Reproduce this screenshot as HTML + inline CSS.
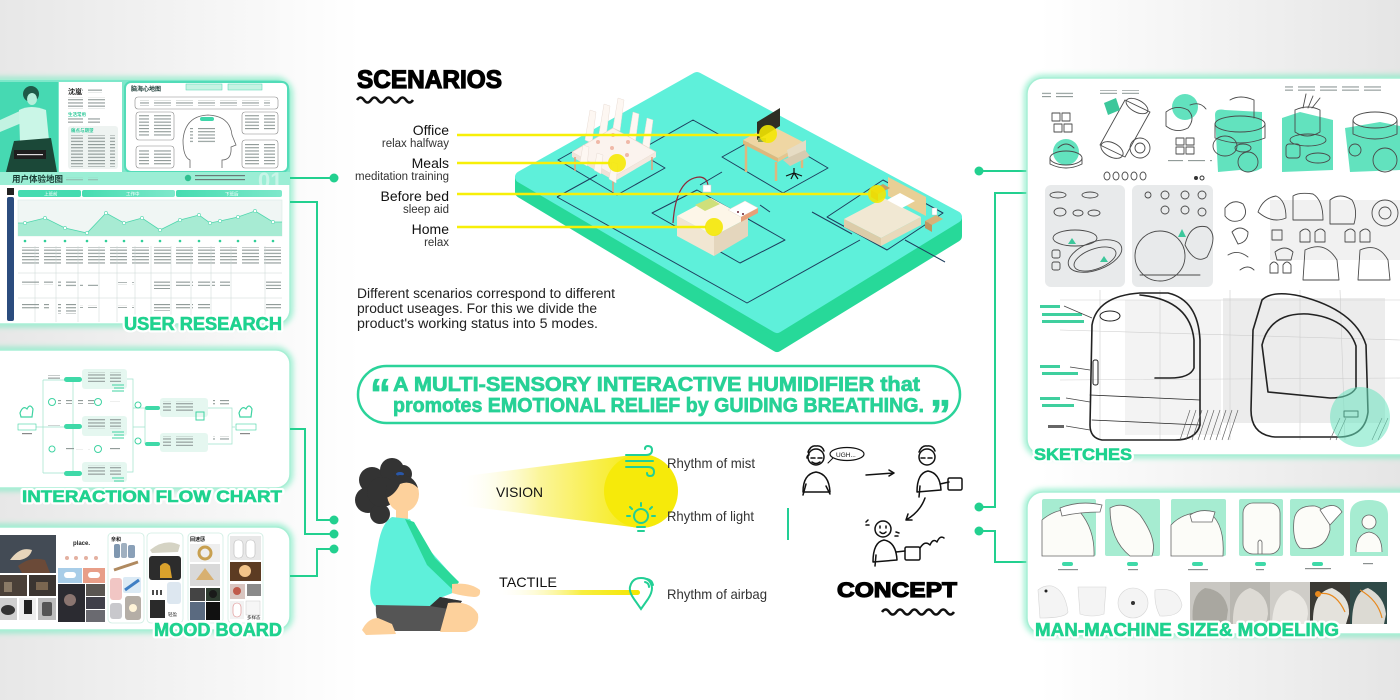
<!DOCTYPE html>
<html><head><meta charset="utf-8"><title>Multi-sensory Interactive Humidifier</title>
<style>
html,body{margin:0;padding:0;background:#fff;}
body{width:1400px;height:700px;overflow:hidden;}
svg{display:block}
text{font-family:"Liberation Sans","Noto Sans CJK SC",sans-serif;}
.lb{font-weight:bold;fill:#fff;stroke:#fff;stroke-width:5;stroke-linejoin:round;}
.lg{font-weight:bold;fill:#1fd28f;stroke:#1fd28f;stroke-width:.6;}
.sk{fill:none;stroke:#4a4a4a;stroke-width:.9;stroke-linecap:round;stroke-linejoin:round;}
.skd{fill:none;stroke:#222;stroke-width:1.6;stroke-linecap:round;stroke-linejoin:round;}
.cn{fill:none;stroke:#22d08f;stroke-width:2;}
.dk{fill:none;stroke:#111;stroke-width:1.5;stroke-linecap:round;stroke-linejoin:round;}
.tile{fill:none;stroke:#1e3e5e;stroke-width:1;stroke-linejoin:round;}
</style></head><body>
<svg width="1400" height="700" viewBox="0 0 1400 700" xmlns="http://www.w3.org/2000/svg">
<defs>
<linearGradient id="gL" x1="0" y1="0" x2="1" y2="0"><stop offset="0" stop-color="#e7e7e7"/><stop offset="1" stop-color="#e7e7e7" stop-opacity="0"/></linearGradient>
<linearGradient id="gR" x1="1" y1="0" x2="0" y2="0"><stop offset="0" stop-color="#e5e5e5"/><stop offset="1" stop-color="#e5e5e5" stop-opacity="0"/></linearGradient>
<linearGradient id="beam" x1="0" y1="0" x2="1" y2="0"><stop offset="0" stop-color="#fff" stop-opacity="0"/><stop offset=".45" stop-color="#fbf59a"/><stop offset="1" stop-color="#f6ea10"/></linearGradient>
<linearGradient id="tbar" x1="0" y1="0" x2="1" y2="0"><stop offset="0" stop-color="#fff" stop-opacity="0"/><stop offset=".6" stop-color="#f8ee40"/><stop offset="1" stop-color="#f4e600"/></linearGradient>
<linearGradient id="tab" x1="0" y1="0" x2="1" y2="0"><stop offset="0" stop-color="#46dcb0"/><stop offset="1" stop-color="#7fe8cb"/></linearGradient>
<filter id="blur" x="-10%" y="-10%" width="120%" height="120%"><feGaussianBlur stdDeviation="3"/></filter>
<pattern id="txt" width="22" height="3.2" patternUnits="userSpaceOnUse"><rect width="17" height="1.1" fill="#8d9896"/></pattern>
<pattern id="txtg" width="26" height="4" patternUnits="userSpaceOnUse"><rect width="20" height="1.2" fill="#3fcf9e"/></pattern>
</defs>

<!-- background -->
<rect width="1400" height="700" fill="#fff"/>
<rect x="0" y="0" width="360" height="700" fill="url(#gL)"/>
<rect x="1040" y="0" width="360" height="700" fill="url(#gR)"/>

<!-- ================= USER RESEARCH PANEL ================= -->
<rect x="-20" y="80" width="310" height="244" rx="14" fill="none" stroke="#7fecc4" stroke-width="6" filter="url(#blur)" opacity=".8"/>
<rect x="-20" y="80" width="310" height="244" rx="14" fill="#fff" stroke="#a8efd5" stroke-width="1.5"/>
<path d="M0 80 H276 Q290 80 290 94 V185 H0Z" fill="#7ee7ca"/>
<!-- photo -->
<rect x="0" y="82" width="58" height="90" fill="#46d9b2"/>
<path d="M0 120 L22 110 L24 122 L0 132Z" fill="#c2f3e2"/>
<path d="M19 110 Q31 104 46 110 L49 140 L20 143Z" fill="#caf6e7"/>
<path d="M14 141 L51 138 L57 172 L6 172Z" fill="#1b4838"/>
<circle cx="31" cy="94" r="8" fill="#1f5a48"/>
<ellipse cx="32" cy="99" rx="5" ry="6" fill="#b6efdb"/>
<rect x="14" y="150" width="32" height="9" fill="#1e1e1e"/>
<rect x="17" y="154" width="26" height="1.2" fill="#ddd"/>
<!-- persona -->
<rect x="59" y="82" width="63" height="90" fill="#fff"/>
<text x="68" y="94" font-size="7" font-weight="bold" fill="#222">沈嵐</text>
<rect x="82" y="89" width="20" height="4" fill="url(#txt)"/>
<rect x="68" y="97" width="38" height="12" fill="url(#txt)"/>
<text x="68" y="116" font-size="4.5" font-weight="bold" fill="#2fc99a">生活常用</text>
<rect x="68" y="118" width="32" height="6" fill="url(#txt)"/>
<rect x="68" y="126" width="50" height="43" rx="3" fill="#eef3f1"/>
<text x="71" y="132" font-size="4.5" font-weight="bold" fill="#2fc99a">痛点与期望</text>
<rect x="71" y="135" width="44" height="32" fill="url(#txt)"/>
<!-- mind map -->
<rect x="125" y="82" width="163" height="90" rx="6" fill="#fff" stroke="#52dcb8" stroke-width="2"/>
<text x="131" y="91" font-size="6" font-weight="bold" fill="#1a3a35">脑海心地图</text>
<rect x="186" y="84" width="36" height="6" fill="#c6f3e3" stroke="#4fd6b0" stroke-width=".5"/>
<rect x="228" y="84" width="34" height="6" fill="#c6f3e3" stroke="#4fd6b0" stroke-width=".5"/>
<rect x="135" y="97" width="143" height="12" rx="3" fill="none" stroke="#888" stroke-width=".6"/>
<rect x="140" y="100" width="130" height="6" fill="url(#txt)"/>
<rect x="136" y="112" width="38" height="28" rx="3" fill="none" stroke="#888" stroke-width=".6"/>
<rect x="139" y="115" width="32" height="22" fill="url(#txt)"/>
<rect x="136" y="146" width="38" height="22" rx="3" fill="none" stroke="#888" stroke-width=".6"/>
<rect x="139" y="149" width="32" height="16" fill="url(#txt)"/>
<rect x="242" y="112" width="36" height="22" rx="3" fill="none" stroke="#888" stroke-width=".6"/>
<rect x="245" y="115" width="30" height="16" fill="url(#txt)"/>
<rect x="242" y="140" width="36" height="28" rx="3" fill="none" stroke="#888" stroke-width=".6"/>
<rect x="245" y="143" width="30" height="22" fill="url(#txt)"/>
<path d="M190 168 V160 Q183 157 183 140 Q185 116 208 115 Q230 116 232 135 L236 145 L231 147 Q232 160 222 160 V168" fill="none" stroke="#666" stroke-width=".8"/>
<rect x="190" y="128" width="30" height="16" fill="url(#txt)"/>
<rect x="200" y="117" width="14" height="4" rx="2" fill="#3fd6aa"/>
<!-- title row -->
<rect x="0" y="172" width="290" height="13" fill="#9beed5"/>
<text x="12" y="182" font-size="8.5" font-weight="bold" fill="#183a33">用户体验地图</text>
<rect x="58" y="177" width="40" height="4" fill="url(#txt)" opacity=".6"/>
<circle cx="188" cy="178" r="3.2" fill="#2fbf8f"/>
<rect x="195" y="175" width="50" height="1.2" fill="#6a7a78"/>
<rect x="195" y="179" width="50" height="1.2" fill="#6a7a78"/>
<text x="258" y="188" font-size="22" font-weight="bold" fill="#fff" opacity=".45">01</text>
<!-- lower card -->
<rect x="3" y="185" width="282" height="137" rx="6" fill="#fff"/>
<rect x="7" y="188" width="7" height="7" fill="#222"/>
<rect x="7" y="197" width="7" height="124" rx="2" fill="#2b4c7e"/>
<rect x="18" y="190" width="63" height="7" rx="2" fill="#45dbb0"/>
<rect x="82" y="190" width="93" height="7" rx="2" fill="url(#tab)"/>
<rect x="176" y="190" width="106" height="7" rx="2" fill="url(#tab)"/>
<text x="44" y="195.5" font-size="4.5" fill="#fff">上班前</text>
<text x="126" y="195.5" font-size="4.5" fill="#fff">工作中</text>
<text x="225" y="195.5" font-size="4.5" fill="#fff">下班后</text>
<rect x="18" y="200" width="264" height="36" fill="#f0f6f4" stroke="#d9ece5" stroke-width=".6"/>
<path d="M18 223 L25 223 L45 218 L65 228 L87 233 L106 213 L124 223 L142 218 L160 230 L180 220 L199 215 L210 223 L220 221 L238 217 L255 211 L273 222 L282 222 L282 236 L18 236Z" fill="#a7ebd3"/>
<path d="M18 223 L25 223 L45 218 L65 228 L87 233 L106 213 L124 223 L142 218 L160 230 L180 220 L199 215 L210 223 L220 221 L238 217 L255 211 L273 222 L282 222" fill="none" stroke="#4fd6ad" stroke-width=".8"/>
<g fill="#fff" stroke="#4fd6ad" stroke-width=".6">
<circle cx="25" cy="223" r="1.6"/><circle cx="45" cy="218" r="1.6"/><circle cx="65" cy="228" r="1.6"/><circle cx="87" cy="233" r="1.6"/><circle cx="106" cy="213" r="1.6"/><circle cx="124" cy="223" r="1.6"/><circle cx="142" cy="218" r="1.6"/><circle cx="160" cy="230" r="1.6"/><circle cx="180" cy="220" r="1.6"/><circle cx="199" cy="215" r="1.6"/><circle cx="210" cy="223" r="1.6"/><circle cx="220" cy="221" r="1.6"/><circle cx="238" cy="217" r="1.6"/><circle cx="255" cy="211" r="1.6"/><circle cx="273" cy="222" r="1.6"/>
</g>
<g fill="#2fcf98">
<circle cx="25" cy="241" r="1.3"/><circle cx="45" cy="241" r="1.3"/><circle cx="65" cy="241" r="1.3"/><circle cx="87" cy="241" r="1.3"/><circle cx="106" cy="241" r="1.3"/><circle cx="124" cy="241" r="1.3"/><circle cx="142" cy="241" r="1.3"/><circle cx="160" cy="241" r="1.3"/><circle cx="180" cy="241" r="1.3"/><circle cx="199" cy="241" r="1.3"/><circle cx="220" cy="241" r="1.3"/><circle cx="238" cy="241" r="1.3"/><circle cx="255" cy="241" r="1.3"/><circle cx="273" cy="241" r="1.3"/>
</g>
<rect x="18" y="247" width="264" height="18" fill="url(#txt)"/>
<g stroke="#c9d6d3" stroke-width=".5">
<line x1="35" y1="246" x2="35" y2="322"/><line x1="56" y1="246" x2="56" y2="322"/><line x1="78" y1="246" x2="78" y2="322"/><line x1="99" y1="246" x2="99" y2="322"/><line x1="117" y1="246" x2="117" y2="322"/><line x1="135" y1="246" x2="135" y2="322"/><line x1="151" y1="246" x2="151" y2="322"/><line x1="171" y1="246" x2="171" y2="322"/><line x1="191" y1="246" x2="191" y2="322"/><line x1="211" y1="246" x2="211" y2="322"/><line x1="231" y1="246" x2="231" y2="322"/><line x1="265" y1="246" x2="265" y2="322"/>
<line x1="18" y1="273" x2="282" y2="273"/><line x1="18" y1="298" x2="282" y2="298"/>
</g>
<rect x="19" y="280" width="34" height="5" fill="url(#txt)"/>
<rect x="58" y="280" width="18" height="8" fill="url(#txt)"/>
<rect x="80" y="283" width="18" height="3" fill="url(#txt)"/>
<rect x="118" y="282" width="16" height="3" fill="url(#txt)"/>
<rect x="152" y="280" width="18" height="9" fill="url(#txt)"/>
<rect x="173" y="280" width="17" height="6" fill="url(#txt)"/>
<rect x="192" y="280" width="18" height="6" fill="url(#txt)"/>
<rect x="212" y="280" width="18" height="6" fill="url(#txt)"/>
<rect x="266" y="280" width="16" height="9" fill="url(#txt)"/>
<rect x="19" y="304" width="30" height="6" fill="url(#txt)"/>
<rect x="58" y="304" width="18" height="10" fill="url(#txt)"/>
<rect x="80" y="305" width="17" height="3" fill="url(#txt)"/>
<rect x="118" y="305" width="16" height="3" fill="url(#txt)"/>
<rect x="152" y="304" width="18" height="7" fill="url(#txt)"/>
<rect x="173" y="304" width="17" height="6" fill="url(#txt)"/>
<rect x="192" y="304" width="18" height="6" fill="url(#txt)"/>
<rect x="266" y="304" width="16" height="6" fill="url(#txt)"/>
<text class="lb" x="124" y="330" font-size="18" textLength="158" lengthAdjust="spacingAndGlyphs">USER RESEARCH</text>
<text class="lg" x="124" y="330" font-size="18" textLength="158" lengthAdjust="spacingAndGlyphs">USER RESEARCH</text>

<!-- ================= INTERACTION FLOW PANEL ================= -->
<rect x="-20" y="350" width="310" height="138" rx="14" fill="none" stroke="#7fecc4" stroke-width="6" filter="url(#blur)" opacity=".8"/>
<rect x="-20" y="350" width="310" height="138" rx="14" fill="#fff" stroke="#a8efd5" stroke-width="1.5"/>
<g fill="none" stroke="#9fe3cb" stroke-width=".7">
<path d="M35 427 H65 M43 380 V473 M43 380 H65 M43 473 H65 M73 382 V471 M127 379 H133 V472 H127 M133 427 H145 M133 408 H145 V444 M208 408 H232 V444 H208 M232 427 H235"/>
</g>
<path d="M20 413 q3 -8 7 -4 q3 -6 6 0 l-1 8 h-11z" fill="#fff" stroke="#3fd3a2" stroke-width="1.2"/>
<rect x="18" y="424" width="18" height="6" fill="#fff" stroke="#3fd3a2" stroke-width=".6"/>
<rect x="22" y="433" width="10" height="1.2" fill="#888"/>
<path d="M239 413 q3 -8 7 -4 q3 -6 6 0 l-1 8 h-11z" fill="#fff" stroke="#3fd3a2" stroke-width="1.2"/>
<rect x="236" y="424" width="20" height="6" fill="#fff" stroke="#3fd3a2" stroke-width=".6"/>
<rect x="240" y="433" width="10" height="1.2" fill="#888"/>
<g fill="#3fd9a8">
<rect x="64" y="377" width="18" height="5" rx="2.5"/><rect x="64" y="424" width="18" height="5" rx="2.5"/><rect x="64" y="471" width="18" height="5" rx="2.5"/>
<rect x="145" y="406" width="15" height="4" rx="2"/><rect x="145" y="442" width="15" height="4" rx="2"/>
</g>
<g fill="#e5f7f0">
<rect x="82" y="369" width="45" height="20" rx="3"/><rect x="82" y="416" width="45" height="20" rx="3"/><rect x="82" y="462" width="45" height="20" rx="3"/>
<rect x="160" y="398" width="48" height="19" rx="3"/><rect x="160" y="433" width="48" height="19" rx="3"/>
</g>
<rect x="85" y="372" width="36" height="10" fill="url(#txt)"/>
<rect x="85" y="419" width="36" height="10" fill="url(#txt)"/>
<rect x="85" y="465" width="36" height="10" fill="url(#txt)"/>
<rect x="163" y="401" width="34" height="10" fill="url(#txt)"/>
<rect x="163" y="436" width="34" height="10" fill="url(#txt)"/>
<g fill="none" stroke="#3fd3a2" stroke-width="1">
<path d="M112 385 h12 M114 388 h10 M112 391 h12"/><path d="M112 432 h12 M114 435 h10 M112 438 h12"/><path d="M112 478 h12 M114 481 h10"/>
<rect x="196" y="412" width="8" height="8"/>
<circle cx="52" cy="402" r="3.5"/><circle cx="98" cy="402" r="3.5"/><circle cx="98" cy="449" r="3.5"/><circle cx="52" cy="449" r="3"/>
<circle cx="138" cy="405" r="3"/><circle cx="138" cy="441" r="3"/>
</g>
<rect x="48" y="375" width="12" height="5" fill="url(#txt)"/>
<rect x="58" y="400" width="14" height="4" fill="url(#txt)"/>
<rect x="78" y="400" width="16" height="4" fill="url(#txt)"/>
<rect x="108" y="401" width="12" height="2" fill="url(#txt)"/>
<rect x="48" y="424" width="12" height="2" fill="url(#txt)"/>
<rect x="62" y="448" width="12" height="2" fill="url(#txt)"/>
<rect x="76" y="449" width="14" height="2" fill="url(#txt)"/>
<rect x="108" y="448" width="12" height="2" fill="url(#txt)"/>
<rect x="213" y="400" width="16" height="5" fill="url(#txt)"/>
<rect x="213" y="436" width="16" height="5" fill="url(#txt)"/>
<text class="lb" x="22" y="502" font-size="17" textLength="260" lengthAdjust="spacingAndGlyphs">INTERACTION FLOW CHART</text>
<text class="lg" x="22" y="502" font-size="17" textLength="260" lengthAdjust="spacingAndGlyphs">INTERACTION FLOW CHART</text>

<!-- ================= MOOD BOARD PANEL ================= -->
<rect x="-20" y="527" width="310" height="103" rx="14" fill="none" stroke="#7fecc4" stroke-width="6" filter="url(#blur)" opacity=".8"/>
<rect x="-20" y="527" width="310" height="103" rx="14" fill="#fff" stroke="#a8efd5" stroke-width="1.5"/>
<rect x="0" y="535" width="56" height="38" fill="#434b55"/>
<path d="M10 560 Q20 546 32 550 Q30 558 20 560Z" fill="#e6d5bb"/>
<path d="M18 566 Q30 556 45 560 L50 573 L22 573Z" fill="#6b4a38"/>
<rect x="0" y="575" width="27" height="21" fill="#4a4038"/><rect x="29" y="575" width="27" height="21" fill="#3b3531"/>
<rect x="4" y="582" width="8" height="10" fill="#8a7a66"/><rect x="36" y="582" width="12" height="8" fill="#7a6650"/>
<rect x="0" y="598" width="17" height="22" fill="#cfcfcf"/><ellipse cx="8" cy="610" rx="7" ry="5" fill="#333"/>
<rect x="19" y="598" width="17" height="22" fill="#eeeeee"/><rect x="24" y="600" width="8" height="14" fill="#222"/>
<rect x="38" y="598" width="18" height="22" fill="#bdbdbd"/><rect x="42" y="602" width="10" height="14" rx="2" fill="#555"/>
<rect x="58" y="535" width="47" height="32" fill="#fff"/>
<text x="73" y="545" font-size="6" font-weight="bold" fill="#222">place.</text>
<g fill="#e3b0a0"><circle cx="67" cy="558" r="2"/><circle cx="76" cy="558" r="2"/><circle cx="86" cy="558" r="2"/><circle cx="96" cy="558" r="2"/></g>
<rect x="58" y="568" width="24" height="15" fill="#a8cde8"/><rect x="64" y="572" width="12" height="6" rx="3" fill="#fff"/>
<rect x="83" y="568" width="22" height="15" fill="#e89e88"/><rect x="88" y="572" width="12" height="6" rx="3" fill="#fff"/>
<rect x="58" y="584" width="27" height="38" fill="#2b2b31"/><circle cx="70" cy="600" r="6" fill="#8a7570"/>
<rect x="86" y="584" width="19" height="12" fill="#5a5652"/><rect x="86" y="597" width="19" height="12" fill="#40404a"/><rect x="86" y="610" width="19" height="12" fill="#6a6a70"/>
<rect x="108" y="533" width="36" height="90" rx="4" fill="#fff" stroke="#cfeee3" stroke-width=".8"/>
<text x="111" y="541" font-size="5" font-weight="bold" fill="#222">亲和</text>
<rect x="114" y="544" width="6" height="14" rx="2" fill="#7f97b0"/><rect x="121" y="543" width="6" height="15" rx="2" fill="#a0b0c0"/><rect x="128" y="545" width="7" height="13" rx="2" fill="#8aa0b8"/>
<path d="M114 570 L138 562" stroke="#b08a60" stroke-width="3"/>
<rect x="110" y="578" width="12" height="22" rx="3" fill="#f1c6c4"/>
<rect x="123" y="577" width="18" height="16" rx="2" fill="#dbeaf5"/><path d="M125 590 L139 580" stroke="#3f7fc4" stroke-width="3"/>
<rect x="125" y="596" width="16" height="24" rx="3" fill="#b5aea6"/><circle cx="133" cy="608" r="4" fill="#fff4d8"/>
<rect x="110" y="603" width="12" height="16" rx="3" fill="#c8c8cc"/>
<rect x="147" y="533" width="36" height="90" rx="4" fill="#fff" stroke="#cfeee3" stroke-width=".8"/>
<path d="M150 550 Q165 538 180 545 L178 552 L152 553Z" fill="#d5d3c4"/>
<rect x="149" y="556" width="32" height="24" rx="3" fill="#2c2c2c"/><path d="M160 578 L160 566 Q165 560 170 566 L172 578Z" fill="#d9a12c"/>
<rect x="150" y="584" width="15" height="15" fill="#fff"/><path d="M153 590 v5 M157 590 v5 M161 590 v5" stroke="#111" stroke-width="1.5"/>
<rect x="167" y="582" width="14" height="22" rx="3" fill="#dde7f0"/>
<rect x="150" y="600" width="15" height="18" fill="#2a2a2a"/><rect x="167" y="606" width="14" height="12" fill="#fff"/>
<text x="168" y="616" font-size="4.5" fill="#222">轻盈</text>
<rect x="188" y="533" width="35" height="90" rx="4" fill="#fff" stroke="#cfeee3" stroke-width=".8"/>
<text x="190" y="541" font-size="5" font-weight="bold" fill="#222">回速感</text>
<rect x="190" y="544" width="30" height="18" fill="#eeeeee"/><circle cx="205" cy="553" r="6" fill="none" stroke="#c8a050" stroke-width="3"/>
<rect x="190" y="564" width="30" height="22" fill="#d9d9d9"/><path d="M196 580 L205 568 L214 580" fill="#d8b070"/>
<rect x="190" y="588" width="15" height="13" fill="#444"/><rect x="206" y="588" width="14" height="13" fill="#2d3b2f"/><circle cx="213" cy="594" r="4" fill="#1a1a1a"/>
<rect x="190" y="602" width="15" height="18" fill="#5a6a80"/><rect x="206" y="602" width="14" height="18" fill="#111"/>
<rect x="228" y="533" width="35" height="90" rx="4" fill="#fff" stroke="#cfeee3" stroke-width=".8"/>
<rect x="230" y="536" width="31" height="24" fill="#e8e8e8"/><rect x="234" y="540" width="9" height="18" rx="4" fill="#fff" stroke="#bbb" stroke-width=".6"/><rect x="246" y="540" width="9" height="18" rx="4" fill="#fff" stroke="#bbb" stroke-width=".6"/>
<rect x="230" y="562" width="31" height="19" fill="#5c3b22"/><circle cx="245" cy="571" r="6" fill="#f3c48a"/>
<rect x="230" y="584" width="15" height="15" fill="#d9c5c0"/><circle cx="237" cy="591" r="4" fill="#c05a4a"/>
<rect x="247" y="584" width="14" height="12" fill="#8a8a8a"/>
<rect x="230" y="601" width="14" height="18" fill="#f2f2f2"/><rect x="233" y="603" width="8" height="14" rx="4" fill="#fff" stroke="#d88" stroke-width=".6"/>
<rect x="246" y="601" width="14" height="14" fill="#f6f6f6" stroke="#ccc" stroke-width=".5"/>
<text x="247" y="619" font-size="4.5" fill="#222">多样态</text>
<text class="lb" x="154" y="636" font-size="18" textLength="128" lengthAdjust="spacingAndGlyphs">MOOD BOARD</text>
<text class="lg" x="154" y="636" font-size="18" textLength="128" lengthAdjust="spacingAndGlyphs">MOOD BOARD</text>

<!-- left connectors -->
<path class="cn" d="M290 178 H334 M290 202 H317 V520 H334 M290 429 H305 V534 H334 M290 576 H317 V549 H334"/>
<g fill="#22d08f"><circle cx="334" cy="178" r="4.5"/><circle cx="334" cy="520" r="4.5"/><circle cx="334" cy="534" r="4.5"/><circle cx="334" cy="549" r="4.5"/></g>

<!-- ================= SCENARIOS ================= -->
<text x="357" y="88" font-size="25" font-weight="bold" fill="#000" stroke="#000" stroke-width="1.2" textLength="145" lengthAdjust="spacingAndGlyphs">SCENARIOS</text>
<path d="M357 100 q3.5 -5 7 0 t7 0 t7 0 t7 0 t7 0 t7 0 t7 0 t7 0" fill="none" stroke="#111" stroke-width="2.6"/>

<g text-anchor="end" fill="#111">
<text x="449" y="135" font-size="14">Office</text>
<text x="449" y="147" font-size="11.5" fill="#333">relax halfway</text>
<text x="449" y="168" font-size="14">Meals</text>
<text x="449" y="180" font-size="11.5" fill="#333">meditation training</text>
<text x="449" y="201" font-size="14">Before bed</text>
<text x="449" y="213" font-size="11.5" fill="#333">sleep aid</text>
<text x="449" y="234" font-size="14">Home</text>
<text x="449" y="246" font-size="11.5" fill="#333">relax</text>
</g>
<g font-size="13.5" fill="#222">
<text x="357" y="298" textLength="258" lengthAdjust="spacingAndGlyphs">Different scenarios correspond to different</text>
<text x="357" y="313" textLength="240" lengthAdjust="spacingAndGlyphs">product useages. For this we divide the</text>
<text x="357" y="328" textLength="241" lengthAdjust="spacingAndGlyphs">product's working status into 5 modes.</text>
</g>

<!-- platform -->
<path d="M521 178 L777 328 L956 218 L956 236 L777 346 L521 192 Z" fill="#27d999" stroke="#27d999" stroke-width="12" stroke-linejoin="round"/>
<path d="M697 78 L956 217 L777 327 L521 177 Z" fill="#5ef0da" stroke="#5ef0da" stroke-width="12" stroke-linejoin="round"/>
<!-- tiles -->
<polygon class="tile" points="558,160 606,133 665,168 617,195"/>
<polygon class="tile" points="722,157 767,132 828,168 783,193"/>
<polygon class="tile" points="652,213 697,190 785,240 740,263"/>
<polygon class="tile" points="827,217 883,180 943,213 887,250"/>
<path class="tile" d="M557 197 L747 303 L860 240 M557 197 L597 175 M640 150 L693 120 L720 135 M905 240 L945 262 M812 212 L852 234 M700 185 L722 172 M760 205 L770 212"/>
<!-- dining -->
<g>
<path d="M585 140 L590 110 L596 112 L592 143Z M599 134 L604 104 L610 106 L606 137Z M613 128 L618 98 L624 100 L620 131Z M628 142 L633 112 L639 114 L635 145Z M642 148 L647 118 L653 120 L649 151Z" fill="#fdf7f2" stroke="#e9ddd5" stroke-width=".5"/>
<polygon points="572,152 613,128 656,152 615,176" fill="#fbf3ee" stroke="#e8d5c8" stroke-width=".6"/>
<polygon points="572,152 615,176 615,181 572,157" fill="#efe2d8"/>
<polygon points="615,176 656,152 656,157 615,181" fill="#f3e8df"/>
<g stroke="#e6a07a" stroke-width="1.5"><line x1="575" y1="157" x2="575" y2="171"/><line x1="613" y1="181" x2="613" y2="192"/><line x1="652" y1="157" x2="652" y2="170"/></g>
<path d="M580 162 L583 145 L589 147 L587 166Z M594 170 L597 153 L603 155 L601 174Z M609 179 L612 162 L618 164 L616 183Z" fill="#fdf7f2" stroke="#e9ddd5" stroke-width=".5"/>
<g fill="#f0b9a8"><circle cx="598" cy="142" r="2"/><circle cx="612" cy="148" r="2"/><circle cx="627" cy="155" r="2"/><circle cx="613" cy="135" r="2"/><circle cx="628" cy="142" r="2"/></g>
</g>
<!-- office -->
<g>
<polygon points="743,140 770,125 805,143 778,158" fill="#efd6a3"/>
<polygon points="743,140 778,158 778,162 743,144" fill="#dfb87c"/>
<polygon points="778,158 805,143 805,147 778,162" fill="#e7c58f"/>
<g stroke="#deb77e" stroke-width="2.5"><line x1="746" y1="144" x2="746" y2="172"/><line x1="776" y1="162" x2="776" y2="181"/><line x1="802" y1="147" x2="802" y2="168"/></g>
<polygon points="757,122 780,108 780,126 757,140" fill="#2f2e24"/>
<polygon points="787,150 806,140 806,158 790,166" fill="#e6dcc4"/>
<polygon points="783,160 805,150 810,156 790,166" fill="#d7cbb0"/>
<path d="M794 168 v6 M786 176 l8 -3 l8 3 M794 173 l-3 6 M794 173 l4 6" stroke="#111" stroke-width="1.2" fill="none"/>
<rect x="758" y="138" width="8" height="4" fill="#8a9f5a"/>
</g>
<!-- living -->
<g>
<path d="M673 223 Q676 178 700 177 Q708 178 708 187" fill="none" stroke="#8d2a3a" stroke-width="1.2"/>
<rect x="703" y="185" width="8" height="7" fill="#fff" stroke="#ccc" stroke-width=".5"/>
<polygon points="677,216 711,198 748,218 714,236" fill="#fdf6e8"/>
<polygon points="677,216 714,236 714,256 677,236" fill="#f1e6d2"/>
<polygon points="714,236 748,218 748,236 714,256" fill="#e4d6bd"/>
<polygon points="695,205 710,198 720,204 705,211" fill="#cfe07a"/>
<polygon points="728,210 745,201 758,208 741,217" fill="#fff" stroke="#e7dccd" stroke-width=".5"/>
<polygon points="741,217 758,208 758,213 741,222" fill="#e8a078"/>
<g fill="#6a2030"><circle cx="738" cy="212" r="1"/><circle cx="743" cy="214" r="1"/></g>
</g>
<!-- bedroom -->
<g>
<polygon points="888,196 888,177 926,197 926,216" fill="#e8cf95"/>
<polygon points="844,219 884,198 921,217 881,238" fill="#f1e8d3"/>
<polygon points="844,219 881,238 881,246 844,227" fill="#dccca9"/>
<polygon points="881,238 921,217 921,225 881,246" fill="#e8d9bb"/>
<polygon points="887,200 900,193 915,201 902,208" fill="#fff"/>
<polygon points="871,190 883,184 890,188 878,194" fill="#c79e62"/>
<polygon points="871,190 878,194 878,201 871,197" fill="#b08250"/>
<polygon points="925,221 936,215 943,219 932,225" fill="#d8b27a"/>
<polygon points="925,221 932,225 932,232 925,228" fill="#bf9660"/>
<rect x="932" y="208" width="5" height="7" fill="#fff" stroke="#bbb" stroke-width=".4"/>
</g>
<!-- yellow lines & circles -->
<g stroke="#f7ef08" stroke-width="2.6">
<line x1="457" y1="135" x2="760" y2="135"/>
<line x1="457" y1="163" x2="610" y2="163"/>
<line x1="457" y1="194" x2="870" y2="194"/>
<line x1="457" y1="227" x2="706" y2="227"/>
</g>
<g fill="#f5e800" opacity=".88">
<circle cx="768" cy="134" r="9"/><circle cx="617" cy="163" r="9"/><circle cx="877" cy="194" r="9"/><circle cx="714" cy="227" r="9"/>
</g>

<!-- ================= QUOTE ================= -->
<rect x="358" y="366" width="602" height="57" rx="28.5" fill="#fff" stroke="#2bd39a" stroke-width="2.5"/>
<g fill="#27d196" stroke="#27d196" stroke-width=".7" font-weight="bold">
<text x="370" y="408" font-size="42">“</text>
<text x="393" y="391" font-size="20" textLength="527" lengthAdjust="spacingAndGlyphs">A MULTI-SENSORY INTERACTIVE HUMIDIFIER that</text>
<text x="393" y="412" font-size="20" textLength="531" lengthAdjust="spacingAndGlyphs">promotes EMOTIONAL RELIEF by GUIDING BREATHING.</text>
<text x="930" y="429" font-size="42">”</text>
</g>

<!-- ================= SENSES ================= -->
<polygon points="457,477 640,454 640,528 457,505" fill="url(#beam)"/>
<circle cx="641" cy="491" r="37" fill="#f6ea0a"/>
<text x="496" y="497" font-size="14" fill="#111" textLength="47" lengthAdjust="spacingAndGlyphs">VISION</text>
<text x="499" y="587" font-size="14" fill="#111" textLength="58" lengthAdjust="spacingAndGlyphs">TACTILE</text>
<rect x="495" y="590" width="145" height="5" rx="2.5" fill="url(#tbar)"/>
<!-- icons -->
<g fill="none" stroke="#22cf95" stroke-width="2" stroke-linecap="round">
<path d="M626 455 H646 Q652 455 652 450 Q652 446 648 446 Q645 446 645 449"/>
<path d="M626 461 H653"/>
<path d="M626 467 H648 Q654 467 654 472 Q654 476 650 476 Q647 476 647 473"/>
<circle cx="641" cy="516" r="7"/>
<path d="M637 527 H645 M638 531 H644 M641 503 V506 M630 507 L632 509 M652 507 L650 509 M627 516 H630 M652 516 H655"/>
<path d="M641 609 L634 599 Q629 592 630 587 Q632 578 641 578 Q651 578 652 588 Q652 593 648 599 Z"/>
<path d="M645 582 Q649 583 649 587 M647 579 Q652 580 653 585"/>
</g>
<g font-size="14" fill="#333">
<text x="667" y="468" textLength="88" lengthAdjust="spacingAndGlyphs">Rhythm of mist</text>
<text x="667" y="521" textLength="87" lengthAdjust="spacingAndGlyphs">Rhythm of light</text>
<text x="667" y="599" textLength="100" lengthAdjust="spacingAndGlyphs">Rhythm of airbag</text>
</g>
<line x1="788" y1="508" x2="788" y2="540" stroke="#22cf95" stroke-width="2"/>

<!-- woman -->
<g>
<circle cx="372" cy="480" r="13" fill="#333"/><circle cx="368" cy="500" r="13" fill="#333"/><circle cx="380" cy="514" r="10" fill="#333"/><circle cx="392" cy="470" r="12" fill="#333"/><circle cx="382" cy="492" r="15" fill="#333"/><circle cx="403" cy="474" r="9" fill="#333"/>
<ellipse cx="400" cy="474" rx="4" ry="2" fill="#2957a8"/>
<rect x="396" y="506" width="12" height="15" fill="#fdd19c"/>
<ellipse cx="403" cy="494" rx="16" ry="18" fill="#fdd19c"/>
<path d="M386 498 Q384 477 400 475 Q414 475 418 488 Q410 480 400 484 Q395 495 386 498Z" fill="#333"/>
<path d="M392 517 L410 519 L425 545 L458 582 L455 592 L440 598 L432 606 L376 607 Q368 600 371 582 L379 540 Q383 522 392 517Z" fill="#5ef0da"/>
<path d="M405 519 L414 522 L435 558 L459 582 L453 590 L427 565Z" fill="#2bd99a"/>
<path d="M376 605 Q374 630 395 631 L441 631 L462 601 L440 597 L430 606Z" fill="#555"/>
<path d="M430 606 L440 597 L462 601 L455 610Z" fill="#333"/>
<path d="M452 584 Q470 582 480 590 Q481 597 474 597 Q462 596 452 593Z" fill="#fdd19c"/>
<path d="M448 603 Q470 600 478 614 Q480 628 466 632 L440 632Z" fill="#fdd19c"/>
<path d="M362 630 Q368 618 378 618 L392 624 L396 634 L366 635Z" fill="#fdd19c"/>
</g>

<!-- concept doodles -->
<g class="dk">
<circle cx="816" cy="457" r="8"/>
<path d="M808 452 q3 -7 8 -6 q6 -1 8 5 M810 449 q-3 2 -1 5 M811 458 h4 M818 458 h4 M812 462 q4 3 8 0 M809 455 q-2 0 -2 3"/>
<path d="M803 492 Q803 474 816 472 Q829 474 830 492 Z"/>
<path d="M806 484 L803 495 M826 486 L830 494"/>
<ellipse cx="847" cy="454" rx="17" ry="6.5" stroke-width="1.2"/>
<path d="M833 458 L828 463" stroke-width="1"/>
<path d="M866 475 L894 473 M889 470 L894 473 L889 476"/>
<circle cx="927" cy="457" r="8"/>
<path d="M919 452 q3 -7 8 -6 q6 -1 8 5 M921 458 h4 M928 458 h4"/>
<path d="M917 492 Q917 473 928 471 Q940 473 941 490 Z"/>
<path d="M940 484 L949 482 M920 486 L919 497"/>
<rect x="948" y="478" width="14" height="12" rx="1.5"/>
<path d="M925 498 Q920 512 906 520 M906 520 L908 514 M906 520 L912 520"/>
<circle cx="883" cy="529" r="8"/>
<path d="M880 526 v2 M886 526 v2 M880 532 q3 3 6 0 M868 520 l-2 2 M869 525 l-3 0 M896 532 l3 1 M895 536 l3 0"/>
<path d="M873 562 Q873 542 884 540 Q896 542 897 560 Z"/>
<path d="M896 552 L905 551 M876 555 L875 566"/>
<rect x="905" y="547" width="15" height="13" rx="1.5"/>
<path d="M920 548 Q925 540 930 545 Q933 538 937 542 Q940 535 944 538"/>
</g>
<text x="836" y="457" font-size="6.5" fill="#111">UGH...</text>
<text x="837" y="597" font-size="21" font-weight="bold" fill="#000" stroke="#000" stroke-width="1.2" textLength="120" lengthAdjust="spacingAndGlyphs">CONCEPT</text>
<path d="M882 612 q3.6 -5 7.2 0 t7.2 0 t7.2 0 t7.2 0 t7.2 0 t7.2 0 t7.2 0 t7.2 0 t7.2 0 t7.2 0" fill="none" stroke="#111" stroke-width="2.6"/>

<!-- right connectors -->
<path class="cn" d="M979 171 H1027 M1027 193 H995 V507 H979 M979 531 H995 V562 H1027"/>
<g fill="#22d08f"><circle cx="979" cy="171" r="4.5"/><circle cx="979" cy="507" r="4.5"/><circle cx="979" cy="531" r="4.5"/></g>

<!-- ================= SKETCHES PANEL ================= -->
<rect x="1027" y="78" width="400" height="377" rx="16" fill="none" stroke="#7fecc4" stroke-width="6" filter="url(#blur)" opacity=".8"/>
<rect x="1027" y="78" width="400" height="377" rx="16" fill="#fff" stroke="#a8efd5" stroke-width="1.5"/>
<rect x="1042" y="92" width="36" height="6" fill="url(#txt)"/>
<rect x="1098" y="90" width="46" height="4" fill="url(#txt)"/>
<g class="sk">
<rect x="1052" y="113" width="8" height="8"/><rect x="1062" y="113" width="8" height="8"/><rect x="1054" y="124" width="8" height="8"/><rect x="1064" y="124" width="8" height="8"/>
</g>
<circle cx="1066" cy="152" r="13" fill="#62e2be"/>
<g class="sk">
<ellipse cx="1066" cy="158" rx="16" ry="7"/><path d="M1050 158 v6 q16 8 32 0 v-6 M1058 148 q8 -8 16 0"/>
<path d="M1100 145 L1125 100 L1150 112 L1125 157 Z"/><ellipse cx="1112" cy="150" rx="12" ry="7" transform="rotate(28 1112 150)"/>
<ellipse cx="1137" cy="106" rx="12" ry="6" transform="rotate(28 1137 106)"/>
<circle cx="1140" cy="148" r="10"/><circle cx="1140" cy="148" r="5"/>
<path d="M1104 176 a3 4 0 1 0 6 0 a3 4 0 1 0 -6 0 M1113 176 a3 4 0 1 0 6 0 a3 4 0 1 0 -6 0 M1122 176 a3 4 0 1 0 6 0 a3 4 0 1 0 -6 0 M1131 176 a3 4 0 1 0 6 0 a3 4 0 1 0 -6 0 M1140 176 a3 4 0 1 0 6 0 a3 4 0 1 0 -6 0"/>
</g>
<path d="M1104 103 L1116 98 L1120 110 L1108 115Z" fill="#3cc79b"/>
<circle cx="1185" cy="107" r="13" fill="#62e2be"/>
<g class="sk">
<path d="M1166 112 q10 -8 22 -2 q8 8 0 18 q-12 6 -22 -2 z M1190 105 q10 -4 16 4"/>
<rect x="1176" y="138" width="8" height="7"/><rect x="1186" y="138" width="8" height="7"/><rect x="1176" y="147" width="8" height="7"/><rect x="1186" y="147" width="8" height="7"/>
</g>
<rect x="1168" y="160" width="44" height="3" fill="url(#txt)"/>
<circle cx="1196" cy="178" r="2" fill="#333"/><circle cx="1202" cy="178" r="2" fill="none" stroke="#333"/>
<path d="M1215 115 Q1215 108 1225 110 L1262 112 L1262 168 Q1250 175 1240 170 L1218 172 Z" fill="#62e2be"/>
<g class="sk">
<ellipse cx="1240" cy="124" rx="25" ry="8"/><path d="M1215 124 v14 q25 10 50 0 v-14"/><path d="M1230 100 q10 -6 24 0 v18"/>
<ellipse cx="1225" cy="146" rx="12" ry="10"/><circle cx="1248" cy="162" r="10"/><ellipse cx="1243" cy="148" rx="8" ry="4"/>
</g>
<path d="M1282 118 L1300 112 L1333 120 L1333 170 L1282 172 Z" fill="#62e2be"/>
<g class="sk">
<path d="M1295 110 v22 q12 8 25 0 v-22 q-12 -6 -25 0"/><path d="M1303 108 l3 -14 M1308 108 l5 -12 M1312 108 l8 -10"/>
<ellipse cx="1308" cy="140" rx="18" ry="6"/><rect x="1286" y="144" width="14" height="14" rx="3"/><ellipse cx="1318" cy="158" rx="12" ry="5"/>
</g>
<path d="M1345 128 L1380 122 L1400 126 L1400 170 L1350 172 Z" fill="#62e2be"/>
<g class="sk">
<ellipse cx="1375" cy="120" rx="22" ry="8"/><path d="M1353 120 v14 q22 10 44 0 v-14"/><circle cx="1385" cy="160" r="12"/><circle cx="1355" cy="150" r="6"/>
</g>
<rect x="1285" y="86" width="100" height="6" fill="url(#txt)"/>
<rect x="1045" y="185" width="80" height="102" rx="6" fill="#e8eaeb"/>
<rect x="1132" y="185" width="81" height="102" rx="6" fill="#e8eaeb"/>
<g class="sk">
<ellipse cx="1058" cy="195" rx="8" ry="3"/><ellipse cx="1090" cy="195" rx="8" ry="3"/><ellipse cx="1060" cy="212" rx="6" ry="4"/><ellipse cx="1078" cy="213" rx="5" ry="3"/><ellipse cx="1094" cy="213" rx="6" ry="3"/>
<ellipse cx="1075" cy="238" rx="22" ry="8"/><ellipse cx="1095" cy="256" rx="28" ry="14" transform="rotate(-20 1095 256)"/><ellipse cx="1095" cy="259" rx="22" ry="10" transform="rotate(-20 1095 259)"/>
<rect x="1052" y="250" width="8" height="8" rx="2"/><rect x="1052" y="262" width="8" height="8" rx="2"/>
<circle cx="1148" cy="195" r="3"/><circle cx="1165" cy="195" r="4"/><circle cx="1185" cy="195" r="4"/><circle cx="1202" cy="195" r="4"/><circle cx="1165" cy="210" r="4"/><circle cx="1185" cy="210" r="4"/><circle cx="1202" cy="212" r="4"/>
<circle cx="1160" cy="256" r="25"/><path d="M1185 245 q5 -22 22 -18 q12 8 0 30 q-12 8 -22 -12"/><path d="M1140 275 h60"/>
</g>
<path d="M1178 237 l4 -8 l4 8 z" fill="#3cc79b"/>
<path d="M1068 244 l4 -6 l4 6z M1100 262 l4 -6 l4 6z" fill="#3cc79b"/>
<rect x="1270" y="200" width="130" height="60" fill="#f1f1f1"/>
<g class="sk">
<path d="M1225 208 q8 -10 18 -4 q6 10 -2 16 q-10 4 -16 -4z M1232 232 q8 -8 16 0 q0 10 -10 12z M1228 255 q10 -6 20 2 M1240 270 q8 -6 14 0"/>
<path d="M1258 212 q5 -14 18 -16 q10 4 10 22 q-14 6 -28 -6z"/>
<path d="M1293 196 q6 -4 20 -2 q10 6 10 26 h-30z"/>
<path d="M1330 200 q10 -8 22 0 q6 10 2 24 h-24z"/>
<circle cx="1385" cy="213" r="13"/><circle cx="1385" cy="213" r="6"/>
<path d="M1272 230 h10 v10 h-10z M1300 232 q6 -6 10 0 v10 h-10z M1315 232 q6 -6 10 0 v10 h-10z M1345 232 q6 -6 10 0 v10 h-10z M1360 232 q6 -6 10 0 v10 h-10z"/>
<path d="M1275 252 q10 -8 18 0 l-2 8 h-14z M1305 250 q20 -10 32 10 l2 20 h-36z M1360 250 q18 -8 28 10 l2 20 h-32z M1270 265 q4 -6 8 0 v8 h-8z M1283 265 q4 -6 8 0 v8 h-8z"/>
</g>
<rect x="1223" y="298" width="162" height="125" fill="#ececec"/>
<rect x="1125" y="300" width="96" height="135" fill="#f3f3f3"/>
<g stroke="#cfcfcf" stroke-width=".6" fill="none">
<path d="M1060 300 L1400 300 M1060 330 L1400 340 M1060 380 L1400 378 M1100 290 L1100 440 M1160 290 L1160 440 M1230 290 L1230 440 M1300 290 L1300 440 M1340 290 L1345 440"/>
</g>
<g class="skd">
<path d="M1092 325 Q1097 296 1140 293 L1168 293 Q1198 300 1200 340 L1200 425 Q1196 440 1175 440 L1102 440 Q1090 438 1090 425 Z"/>
<path d="M1140 295 Q1190 300 1194 340 L1194 368 Q1190 378 1170 378 L1155 378"/>
<ellipse cx="1110" cy="316" rx="10" ry="5" stroke-width="1"/>
<path d="M1090 395 L1200 400 M1092 420 L1200 425" stroke-width=".8"/>
<rect x="1093" y="360" width="5" height="25" rx="2" stroke-width="1"/>
<path d="M1262 300 Q1272 290 1300 296 Q1355 310 1366 345 L1368 412 Q1365 436 1340 437 L1275 437 Q1251 435 1251 410 L1253 330 Z"/>
<path d="M1262 345 Q1270 312 1308 314 Q1347 318 1356 346 L1356 388 Q1350 398 1330 398 L1268 392 Z"/>
<rect x="1344" y="411" width="14" height="6" stroke-width="1"/>
</g>
<g stroke="#555" stroke-width=".6">
<path d="M1180 440 L1190 410 M1186 440 L1196 410 M1192 440 L1202 410 M1198 440 L1208 410 M1204 440 L1214 410 M1210 440 L1220 410 M1216 440 L1226 410 M1222 440 L1232 410 M1228 440 L1238 410"/>
<path d="M1330 440 L1340 418 M1336 440 L1346 418 M1372 440 L1382 418 M1378 440 L1388 418"/>
</g>
<circle cx="1360" cy="417" r="30" fill="#6ae3c0" opacity=".55"/>
<g fill="#3fcf9e">
<rect x="1040" y="305" width="20" height="3"/><rect x="1042" y="313" width="40" height="3"/><rect x="1042" y="320" width="42" height="3"/>
<rect x="1040" y="365" width="20" height="3"/><rect x="1042" y="372" width="36" height="3"/>
<rect x="1040" y="397" width="20" height="3"/><rect x="1042" y="404" width="32" height="3"/>
<rect x="1048" y="425" width="16" height="3" fill="#666"/>
</g>
<path d="M1064 306 L1092 318 M1070 367 L1090 370 M1066 398 L1090 402 M1066 426 L1090 430" stroke="#444" stroke-width=".7" fill="none"/>
<text class="lb" x="1034" y="460" font-size="17" textLength="98" lengthAdjust="spacingAndGlyphs">SKETCHES</text>
<text class="lg" x="1034" y="460" font-size="17" textLength="98" lengthAdjust="spacingAndGlyphs">SKETCHES</text>

<!-- ================= MAN-MACHINE PANEL ================= -->
<rect x="1027" y="492" width="400" height="142" rx="16" fill="none" stroke="#7fecc4" stroke-width="6" filter="url(#blur)" opacity=".8"/>
<rect x="1027" y="492" width="400" height="142" rx="16" fill="#fff" stroke="#a8efd5" stroke-width="1.5"/>
<g fill="#a6ecd1">
<rect x="1042" y="499" width="54" height="57" rx="2"/><rect x="1105" y="499" width="55" height="57" rx="2"/><rect x="1171" y="499" width="55" height="57" rx="2"/>
<rect x="1239" y="499" width="44" height="57" rx="2"/><rect x="1290" y="499" width="54" height="57" rx="2"/>
<path d="M1350 556 V515 Q1350 500 1369 500 Q1388 500 1388 515 V556Z"/>
</g>
<g fill="#fcfcf8" stroke="#666" stroke-width=".8">
<path d="M1042 520 Q1060 505 1080 512 Q1095 530 1094 556 H1042Z"/>
<path d="M1060 508 Q1080 500 1102 505 L1100 512 Q1080 512 1062 516Z" fill="#fff"/>
<path d="M1110 508 Q1125 500 1140 515 Q1158 540 1152 556 L1130 556 Q1110 540 1110 508Z"/>
<path d="M1171 525 Q1185 510 1210 513 Q1225 525 1223 556 H1171Z"/>
<path d="M1190 515 Q1200 508 1215 512 L1212 522 L1192 522Z" fill="#fff"/>
<rect x="1243" y="503" width="37" height="51" rx="10"/>
<path d="M1294 520 Q1296 505 1315 506 Q1330 510 1330 530 Q1325 552 1300 548 Q1292 540 1294 520Z"/>
<path d="M1320 510 Q1335 500 1342 512 L1330 525Z" fill="#fff"/>
<circle cx="1369" cy="522" r="7"/><path d="M1356 552 Q1356 534 1369 532 Q1382 534 1382 552"/>
</g>
<path d="M1258 554 v-12 q2 -4 4 0 v12" fill="none" stroke="#666" stroke-width=".8"/>
<g fill="#3fd9a8"><rect x="1062" y="562" width="11" height="4" rx="2"/><rect x="1127" y="562" width="11" height="4" rx="2"/><rect x="1192" y="562" width="11" height="4" rx="2"/><rect x="1255" y="562" width="11" height="4" rx="2"/><rect x="1312" y="562" width="11" height="4" rx="2"/></g>
<g fill="#8a9090"><rect x="1058" y="569" width="20" height="1.2"/><rect x="1128" y="569" width="10" height="1.2"/><rect x="1188" y="569" width="20" height="1.2"/><rect x="1256" y="569" width="8" height="1.2"/><rect x="1305" y="568" width="26" height="1.2"/><rect x="1363" y="563" width="10" height="1.2"/></g>
<g fill="#f4f4f4" stroke="#d6d6d6" stroke-width=".6">
<path d="M1038 590 Q1044 585 1052 586 Q1065 590 1068 612 Q1066 618 1040 618 Z"/>
<path d="M1078 587 H1106 L1104 614 Q1092 618 1080 614 Z"/>
<circle cx="1133" cy="603" r="15"/>
<path d="M1155 590 Q1178 586 1182 605 Q1180 617 1160 616 Q1154 605 1155 590Z"/>
</g>
<circle cx="1046" cy="591" r="1.5" fill="#222"/><circle cx="1133" cy="603" r="2" fill="#333"/>
<rect x="1190" y="582" width="40" height="42" fill="#c9c7c2"/>
<rect x="1230" y="582" width="40" height="42" fill="#b9b7b1"/>
<rect x="1270" y="582" width="40" height="42" fill="#cfcdc8"/>
<rect x="1310" y="582" width="40" height="42" fill="#3b3a35"/>
<rect x="1350" y="582" width="37" height="42" fill="#2f4a48"/>
<g fill="#e9e7e2">
<path d="M1193 624 Q1190 595 1205 588 Q1225 590 1228 610 L1226 624Z" fill="#a9a7a0"/>
<path d="M1233 624 Q1232 594 1250 588 Q1268 594 1268 614 L1266 624Z" fill="#dddad4"/>
<path d="M1272 624 Q1273 595 1290 590 Q1308 596 1308 614 L1306 624Z"/>
<path d="M1313 624 Q1312 592 1332 588 Q1350 596 1349 614 L1346 624Z" fill="#e4e2dc"/>
<path d="M1352 624 Q1352 592 1368 588 Q1384 596 1386 614 L1384 624Z" fill="#dcdad3"/>
</g>
<path d="M1318 594 Q1335 590 1345 612 M1360 590 Q1378 600 1382 618" fill="none" stroke="#e8891e" stroke-width="1.2"/>
<circle cx="1318" cy="594" r="3" fill="#e8891e"/>
<text class="lb" x="1035" y="636" font-size="18" textLength="304" lengthAdjust="spacingAndGlyphs">MAN-MACHINE SIZE&amp; MODELING</text>
<text class="lg" x="1035" y="636" font-size="18" textLength="304" lengthAdjust="spacingAndGlyphs">MAN-MACHINE SIZE&amp; MODELING</text>
</svg>
</body></html>
